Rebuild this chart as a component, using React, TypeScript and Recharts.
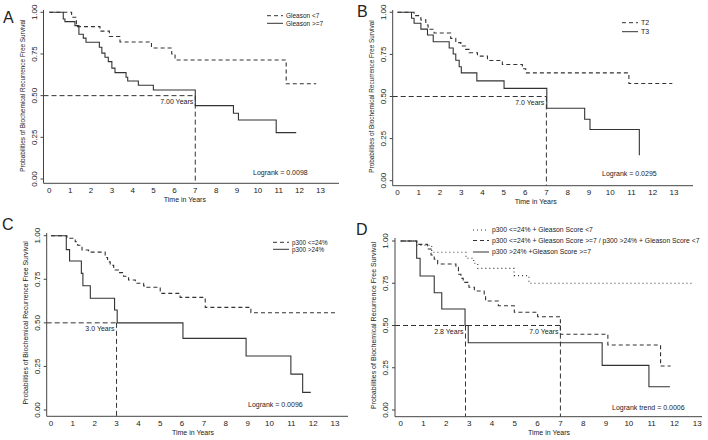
import { LineChart, Line, XAxis, YAxis, ReferenceLine, ReferenceDot } from 'recharts';

type Step = [number, number];

// A: Gleason score (time in years, survival probability at step)
const A_GLEASON_LOW: Step[] = [
  [0, 1], [1.07, 0.97], [1.3, 0.914], [2.43, 0.887], [2.88, 0.855], [3.39, 0.822],
  [4.9, 0.786], [5.87, 0.75], [6.03, 0.714], [11.36, 0.571], [12.8, 0.571],
];
const A_GLEASON_HIGH: Step[] = [
  [0, 1], [0.67, 0.96], [0.75, 0.944], [1.23, 0.92], [1.42, 0.868], [1.63, 0.845],
  [1.76, 0.82], [2.4, 0.79], [2.52, 0.755], [2.67, 0.73], [2.83, 0.704], [3.0, 0.665],
  [3.15, 0.638], [3.68, 0.61], [3.76, 0.588], [4.27, 0.562], [4.99, 0.534], [7.0, 0.44],
  [8.83, 0.394], [9.07, 0.354], [10.88, 0.278], [11.84, 0.278],
];

// B: pathological stage
const B_T2: Step[] = [
  [0, 1], [0.78, 0.98], [1.1, 0.955], [1.33, 0.925], [1.44, 0.899], [1.72, 0.877],
  [2.5, 0.845], [2.74, 0.82], [2.98, 0.8], [3.2, 0.78], [3.37, 0.76], [3.76, 0.74],
  [4.23, 0.714], [4.93, 0.69], [5.87, 0.665], [6.03, 0.64], [10.88, 0.577], [12.92, 0.577],
];
const B_T3: Step[] = [
  [0, 1], [0.66, 0.965], [0.78, 0.935], [1.1, 0.9], [1.41, 0.865], [1.68, 0.825],
  [2.43, 0.788], [2.62, 0.752], [2.74, 0.715], [2.9, 0.677], [3.0, 0.64], [3.73, 0.593],
  [5.01, 0.548], [7.02, 0.43], [8.8, 0.365], [9.05, 0.304], [11.37, 0.151],
];

// C: p300 expression
const C_P300_LOW: Step[] = [
  [0, 1], [0.73, 0.985], [1.11, 0.965], [1.22, 0.945], [1.42, 0.918], [1.72, 0.906],
  [2.48, 0.875], [2.59, 0.85], [2.71, 0.83], [2.87, 0.803], [3.09, 0.788], [3.32, 0.767],
  [3.55, 0.746], [3.86, 0.727], [4.24, 0.712], [4.39, 0.704], [5.0, 0.669], [5.91, 0.646],
  [7.06, 0.589], [9.15, 0.558], [13.0, 0.558],
];
const C_P300_HIGH: Step[] = [
  [0, 1], [0.7, 0.92], [0.85, 0.855], [1.39, 0.784], [1.46, 0.713], [1.8, 0.641],
  [2.91, 0.574], [3.03, 0.5], [6.04, 0.411], [8.93, 0.31], [10.98, 0.206], [11.52, 0.101],
  [11.89, 0.101],
];

// D: combined groups
const D_LOW_LOW: Step[] = [
  [0, 1], [0.7, 0.975], [1.36, 0.933], [2.86, 0.898], [3.2, 0.868], [3.38, 0.838],
  [4.97, 0.795], [5.62, 0.75], [12.8, 0.75],
];
const D_MIXED: Step[] = [
  [0, 1], [0.7, 0.98], [1.17, 0.953], [1.33, 0.917], [1.47, 0.892], [1.62, 0.864],
  [2.42, 0.844], [2.53, 0.803], [2.64, 0.779], [2.74, 0.755], [2.99, 0.726], [3.23, 0.704],
  [3.66, 0.676], [3.72, 0.645], [4.28, 0.617], [4.98, 0.578], [6.0, 0.552], [7.0, 0.448],
  [9.08, 0.385], [11.39, 0.26], [11.83, 0.26],
];
const D_HIGH_HIGH: Step[] = [
  [0, 1], [0.7, 0.898], [0.85, 0.793], [1.47, 0.694], [1.8, 0.598], [2.82, 0.5],
  [2.96, 0.398], [8.83, 0.264], [10.88, 0.138], [11.8, 0.138],
];

const YEAR_TICKS = [0, 1, 2, 3, 4, 5, 6, 7, 8, 9, 10, 11, 12, 13];
const SURV_TICKS = [0, 0.25, 0.5, 0.75, 1];

const W = 708;
const H = 440;
const YW = 30;
const XH = 20;
const FONT = '"Liberation Sans", Arial, Helvetica, sans-serif';
const INK = '#222';
const AXIS = '#444';
const SOLID = '#333';
const DASH = '4 3';
const DOT = '1 3';
const MEDIAN_DASH = '5 3';

type Series = { data: Step[]; dash?: string; label: string };
type Panel = {
  letter: string;
  letterPos: [number, number];
  // axis box + where ticks 0/13 and 0/1 land, in page pixels
  left: number; right: number; top: number; bottom: number;
  x0: number; x13: number; y0: number; y1: number;
  series: Series[];
  medians: { t: number; text: string }[];
  legendX: number; legendRows: number[]; legendSize: number;
  logrank: string; logrankPos: [number, number];
  yTitleSize: number;
};

const PANELS: Panel[] = [
  {
    letter: 'A', letterPos: [3, 23],
    left: 43.5, right: 339, top: 10, bottom: 183.3,
    x0: 49.3, x13: 320.4, y0: 179, y1: 12.3,
    series: [
      { data: A_GLEASON_LOW, dash: DASH, label: 'Gleason <7' },
      { data: A_GLEASON_HIGH, label: 'Gleason >=7' },
    ],
    medians: [{ t: 7.0, text: '7.00 Years' }],
    legendX: 267, legendRows: [15.7, 23.3], legendSize: 6.5,
    logrank: 'Logrank = 0.0098', logrankPos: [253, 174.5],
    yTitleSize: 6.4,
  },
  {
    letter: 'B', letterPos: [357, 17],
    left: 392.7, right: 693, top: 10, bottom: 185.7,
    x0: 397.5, x13: 674, y0: 180.7, y1: 12.3,
    series: [
      { data: B_T2, dash: DASH, label: 'T2' },
      { data: B_T3, label: 'T3' },
    ],
    medians: [{ t: 7.0, text: '7.0 Years' }],
    legendX: 622, legendRows: [22.7, 31.7], legendSize: 7,
    logrank: 'Logrank = 0.0295', logrankPos: [602, 175.5],
    yTitleSize: 6.4,
  },
  {
    letter: 'C', letterPos: [2, 230],
    left: 46.7, right: 348, top: 233, bottom: 416.3,
    x0: 51, x13: 335, y0: 410, y1: 235.7,
    series: [
      { data: C_P300_LOW, dash: DASH, label: 'p300 <=24%' },
      { data: C_P300_HIGH, label: 'p300 >24%' },
    ],
    medians: [{ t: 3.0, text: '3.0 Years' }],
    legendX: 273, legendRows: [242.3, 249.3], legendSize: 6.3,
    logrank: 'Logrank = 0.0096', logrankPos: [248, 406.5],
    yTitleSize: 6.85,
  },
  {
    letter: 'D', letterPos: [356, 235],
    left: 395, right: 702, top: 238, bottom: 416.7,
    x0: 400.7, x13: 697.3, y0: 410, y1: 241,
    series: [
      { data: D_LOW_LOW, dash: DOT, label: 'p300 <=24% + Gleason Score <7' },
      { data: D_MIXED, dash: DASH, label: 'p300 <=24% + Gleason Score >=7 / p300 >24% + Gleason Score <7' },
      { data: D_HIGH_HIGH, label: 'p300 >24% +Gleason Score >=7' },
    ],
    medians: [{ t: 2.84, text: '2.8 Years' }, { t: 7.0, text: '7.0 Years' }],
    legendX: 473, legendRows: [230, 240.5, 252], legendSize: 6.8,
    logrank: 'Logrank trend = 0.0006', logrankPos: [612, 410],
    yTitleSize: 7,
  },
];

const toPts = (d: Step[]) => d.map(([t, s]) => ({ t, s }));

function YTick(props: any) {
  const { x, y, payload } = props;
  return (
    <text transform={`translate(${x},${y}) rotate(-90)`} textAnchor="middle" fontSize={8} fill={INK} fontFamily={FONT}>
      {Number(payload.value).toFixed(2)}
    </text>
  );
}

function KmPanel({ p }: { p: Panel }) {
  const ppx = (p.x13 - p.x0) / 13;
  const ppy = p.y0 - p.y1;
  const xMin = (p.left - p.x0) / ppx;
  const xMax = (p.right - p.x0) / ppx;
  const yMin = (p.y0 - p.bottom) / ppy;
  const yMax = (p.y0 - p.top) / ppy;
  const lastMedian = Math.max(...p.medians.map((m) => m.t));

  return (
    <div style={{ position: 'absolute', left: 0, top: 0 }}>
      <LineChart
        width={W}
        height={H}
        margin={{ left: p.left - YW, right: W - p.right, top: p.top, bottom: H - p.bottom - XH }}
      >
        <XAxis
          type="number"
          dataKey="t"
          domain={[xMin, xMax]}
          ticks={YEAR_TICKS}
          interval={0}
          allowDataOverflow
          height={XH}
          tickLine={false}
          tickSize={0}
          tickMargin={4}
          axisLine={{ stroke: AXIS }}
          tick={{ fontSize: 8, fill: INK, fontFamily: FONT }}
        />
        <YAxis
          type="number"
          domain={[yMin, yMax]}
          ticks={SURV_TICKS}
          interval={0}
          allowDataOverflow
          width={YW}
          tickSize={3}
          tickMargin={4}
          tickLine={{ stroke: AXIS }}
          axisLine={{ stroke: AXIS }}
          tick={(tp: any) => <YTick {...tp} />}
        />
        <ReferenceLine
          segment={[{ x: xMin, y: 0.5 }, { x: lastMedian, y: 0.5 }]}
          stroke={SOLID}
          strokeDasharray={MEDIAN_DASH}
          ifOverflow="visible"
        />
        {p.medians.map((m) => (
          <ReferenceLine
            key={'v' + m.t}
            segment={[{ x: m.t, y: 0.5 }, { x: m.t, y: yMin }]}
            stroke={SOLID}
            strokeDasharray={MEDIAN_DASH}
            ifOverflow="visible"
          />
        ))}
        {p.medians.map((m) => (
          <ReferenceDot
            key={'l' + m.t}
            x={m.t}
            y={0.5}
            r={0}
            ifOverflow="visible"
            shape={(sp: any) => (
              <text x={sp.cx - 2} y={sp.cy + 8} textAnchor="end" fontSize={7} fill={INK} fontFamily={FONT}>
                {m.text}
              </text>
            )}
          />
        ))}
        {p.series.map((s) => (
          <Line
            key={s.label}
            data={toPts(s.data)}
            dataKey="s"
            type="stepAfter"
            stroke={SOLID}
            strokeWidth={1.1}
            strokeDasharray={s.dash}
            dot={false}
            activeDot={false}
            isAnimationActive={false}
          />
        ))}
      </LineChart>
    </div>
  );
}

function Overlay() {
  return (
    <svg width={W} height={H} style={{ position: 'absolute', left: 0, top: 0, pointerEvents: 'none' }} fontFamily={FONT}>
      {PANELS.map((p) => (
        <g key={p.letter} fill={INK}>
          <text x={p.letterPos[0]} y={p.letterPos[1]} fontSize={16}>{p.letter}</text>
          <text x={(p.x0 + p.x13) / 2} y={p.bottom + 18.5} textAnchor="middle" fontSize={7}>
            Time in Years
          </text>
          <text
            transform={`translate(${p.left - 21},${(p.y0 + p.y1) / 2}) rotate(-90)`}
            textAnchor="middle"
            dy="0.35em"
            fontSize={p.yTitleSize}
          >
            Probabilities of Biochemical Recurrence Free Survival
          </text>
          {p.series.map((s, i) => (
            <g key={s.label}>
              <line
                x1={p.legendX}
                x2={p.legendX + 16}
                y1={p.legendRows[i]}
                y2={p.legendRows[i]}
                stroke={SOLID}
                strokeWidth={1}
                strokeDasharray={s.dash}
              />
              <text x={p.legendX + 19} y={p.legendRows[i]} dy="0.35em" fontSize={p.legendSize}>
                {s.label}
              </text>
            </g>
          ))}
          <text x={p.logrankPos[0]} y={p.logrankPos[1]} fontSize={7}>{p.logrank}</text>
        </g>
      ))}
    </svg>
  );
}

export default function App() {
  return (
    <div style={{ position: 'absolute', left: 0, top: 0, width: W, height: H, background: '#fff', overflow: 'hidden' }}>
      {PANELS.map((p) => (
        <KmPanel key={p.letter} p={p} />
      ))}
      <Overlay />
    </div>
  );
}
